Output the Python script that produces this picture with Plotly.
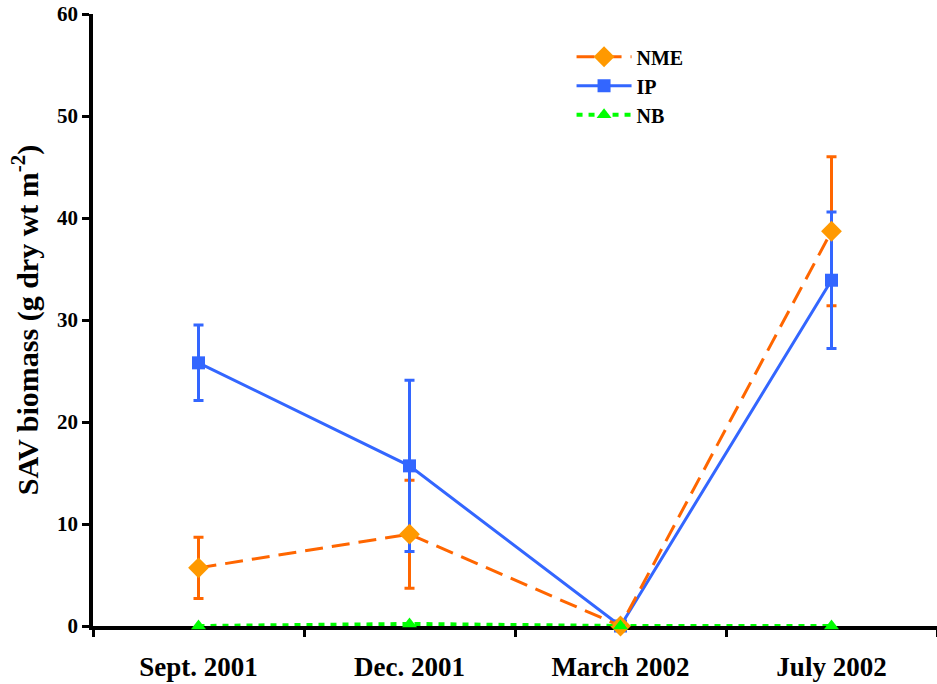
import plotly.graph_objects as go

categories = ["Sept. 2001", "Dec. 2001", "March 2002", "July 2002"]
nme = [5.7, 9.0, 0.0, 38.7]
nme_err = [3.0, 5.3, 0.0, 7.3]
ip = [25.8, 15.7, 0.0, 33.9]
ip_err = [3.7, 8.4, 0.0, 6.7]
nb = [0.0, 0.2, 0.0, 0.0]

FONT = "Liberation Serif"
ORANGE_LINE = "#FF6600"
ORANGE_MARK = "#FF9900"
BLUE = "#3366FF"
GREEN = "#00FF00"

fig = go.Figure()

# NME error bars (drawn below IP)
fig.add_trace(go.Scatter(
    x=categories, y=nme, mode="markers", showlegend=False, hoverinfo="skip",
    marker=dict(size=1, color="rgba(0,0,0,0)"),
    error_y=dict(type="data", array=nme_err, visible=True, color=ORANGE_LINE,
                 thickness=3, width=5),
    cliponaxis=False,
))

fig.add_trace(go.Scatter(
    x=categories, y=ip, name="IP", mode="lines+markers",
    line=dict(color=BLUE, width=3),
    marker=dict(symbol="square", size=13, color=BLUE),
    error_y=dict(type="data", array=ip_err, visible=True, color=BLUE,
                 thickness=3, width=5),
    cliponaxis=False, legendrank=2, legendgroup="ip",
))

fig.add_trace(go.Scatter(
    x=categories, y=nme, name="NME", mode="lines+markers",
    line=dict(color=ORANGE_LINE, width=3, dash="18px,9px"),
    marker=dict(symbol="diamond", size=16, color=ORANGE_MARK),
    cliponaxis=False, legendrank=1, legendgroup="nme",
))

fig.add_trace(go.Scatter(
    x=categories, y=nb, name="NB", mode="lines+markers",
    line=dict(color=GREEN, width=4, dash="6px,6px"),
    marker=dict(symbol="triangle-up", size=13, color=GREEN),
    cliponaxis=False, legendrank=3, legendgroup="nb",
))

fig.update_layout(
    width=937, height=684,
    margin=dict(l=93, r=0, t=14, b=58),
    plot_bgcolor="white", paper_bgcolor="white",
    font=dict(family=FONT, color="black"),
    legend=dict(x=0.567, y=0.962, xanchor="left", yanchor="top",
                font=dict(family=FONT, size=20, color="black", weight="bold"),
                bgcolor="rgba(0,0,0,0)", tracegroupgap=0, itemwidth=55),
    xaxis=dict(
        type="category", range=[-0.5, 3.5], showgrid=False, zeroline=False,
        showline=True, linecolor="black", linewidth=3.5, layer="below traces",
        tickson="boundaries", ticks="outside", ticklen=7, tickwidth=3, tickcolor="black",
        tickfont=dict(family=FONT, size=27, color="black", weight="bold"),
        ticklabelstandoff=14, automargin=False, ticklabeloverflow="allow",
    ),
    yaxis=dict(
        range=[0, 60], dtick=10, showgrid=False, zeroline=False,
        showline=True, linecolor="black", linewidth=3.5, layer="below traces",
        ticks="outside", ticklen=7, tickwidth=3, tickcolor="black",
        tickfont=dict(family=FONT, size=21, color="black", weight="bold"),
        automargin=False, ticklabeloverflow="allow",
        title=dict(text="SAV biomass (g dry wt m<sup>-2</sup>)",
                   font=dict(family=FONT, size=30, color="black", weight="bold"),
                   standoff=11),
    ),
)

# remove the default 8px page margin so the figure fills the window exactly
fig.write_html("out.html", config={"displayModeBar": False},
               post_script="document.body.style.margin='0';")
